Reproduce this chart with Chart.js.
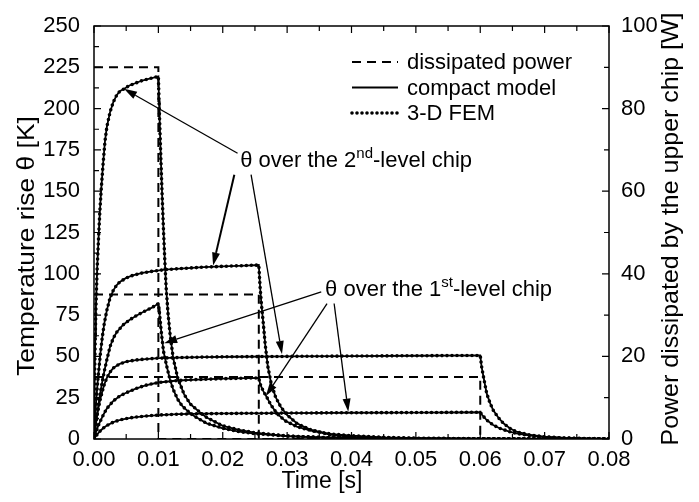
<!DOCTYPE html>
<html>
<head>
  <title>Temperature rise of stacked chips</title>
  <script src="https://cdn.jsdelivr.net/npm/chart.js"></script>
  <style>
    body { margin: 0; background: #fff; }
  </style>
</head>
<body>
  <canvas id="myChart" width="699" height="502"></canvas>
  <script>
    const FONT = '"Liberation Sans", Arial, sans-serif';

    // dissipated power pulses [W] (right axis)
    const p1Time = [0, 0.01, 0.01, 0.08];
    const p1Power = [90, 90, 0, 0];
    const p2Time = [0, 0.0256, 0.0256, 0.08];
    const p2Power = [35, 35, 0, 0];
    const p3Time = [0, 0.06, 0.06, 0.08];
    const p3Power = [15, 15, 0, 0];

    // temperature rise [K], 90 W pulse, 2nd-level chip
    const a2Time = [0, 0.0001, 0.0002, 0.0003, 0.0005, 0.0007, 0.0009, 0.0011, 0.0014, 0.0017, 0.002, 0.0025, 0.003, 0.0035, 0.004, 0.0047, 0.0055, 0.0065, 0.0075, 0.0085, 0.01,
      0.0101, 0.0102, 0.0104, 0.0106, 0.0108, 0.011, 0.0112, 0.0115, 0.0118, 0.0123, 0.013, 0.014, 0.015, 0.0165, 0.0175, 0.02, 0.0225, 0.025, 0.03, 0.035, 0.04, 0.05, 0.06, 0.08];
    const a2Temp = [0, 40, 62, 80, 104, 121, 137, 150, 166, 180, 189, 198, 204, 208, 210.5, 212, 214, 215.5, 217, 218, 219.5,
      205, 192, 168, 146, 126, 108, 92, 76, 64, 49, 37, 27, 21, 16, 13, 8, 5.5, 3.8, 1.8, 1, 0.5, 0.2, 0.05, 0];
    // 90 W pulse, 1st-level chip
    const a1Time = [0, 0.0002, 0.0004, 0.0006, 0.0008, 0.001, 0.0013, 0.0016, 0.002, 0.0025, 0.003, 0.0035, 0.0045, 0.0055, 0.0065, 0.0077, 0.009, 0.01,
      0.0101, 0.0102, 0.0103, 0.0105, 0.0108, 0.0113, 0.0118, 0.0123, 0.013, 0.0137, 0.0144, 0.0155, 0.0175, 0.02, 0.0225, 0.025, 0.03, 0.035, 0.04, 0.05, 0.06, 0.08];
    const a1Temp = [0, 6, 12, 18, 23.5, 28.5, 35, 41, 48, 56, 61, 64.5, 69, 72, 74.5, 77, 79.5, 82,
      79, 75, 71, 63, 53, 44, 36, 30, 24, 20, 17.5, 14, 9.5, 6.5, 4.5, 3.2, 1.8, 1, 0.6, 0.2, 0.05, 0];
    // 35 W pulse, 2nd-level chip
    const b2Time = [0, 0.0002, 0.0004, 0.0006, 0.0008, 0.001, 0.0013, 0.0016, 0.002, 0.0025, 0.003, 0.0035, 0.004, 0.005, 0.006, 0.0075, 0.009, 0.011, 0.014, 0.017, 0.02, 0.0235, 0.0256,
      0.0258, 0.026, 0.0263, 0.0266, 0.027, 0.0275, 0.0282, 0.029, 0.03, 0.0315, 0.0335, 0.0366, 0.04, 0.045, 0.05, 0.06, 0.08];
    const b2Temp = [0, 15, 26, 36, 44, 52, 62, 70, 78, 85.5, 90, 93, 95, 97.5, 99, 100.5, 101.5, 102.5, 103.3, 104, 104.5, 105, 105.3,
      92, 82, 70, 57, 44, 34, 25.5, 19.5, 14.5, 9.5, 5.8, 2.6, 1.3, 0.6, 0.3, 0.1, 0];
    // 35 W pulse, 1st-level chip
    const b1Time = [0, 0.0003, 0.0006, 0.001, 0.0015, 0.002, 0.003, 0.004, 0.005, 0.0065, 0.008, 0.01, 0.013, 0.016, 0.02, 0.0256,
      0.0258, 0.026, 0.0263, 0.0268, 0.0275, 0.0284, 0.0297, 0.0315, 0.034, 0.037, 0.04, 0.045, 0.05, 0.06, 0.08];
    const b1Temp = [0, 4, 7.5, 11, 15, 18.5, 23, 26, 28, 30.5, 32.5, 34.2, 35.4, 36, 36.5, 37,
      33.5, 31.5, 29, 25.6, 20.5, 15.5, 11, 7.5, 4.8, 3, 2, 1, 0.5, 0.15, 0];
    // 15 W pulse, 2nd-level chip
    const c2Time = [0, 0.0002, 0.0004, 0.0006, 0.0008, 0.001, 0.0013, 0.0016, 0.002, 0.0025, 0.003, 0.004, 0.005, 0.0065, 0.008, 0.01, 0.013, 0.017, 0.022, 0.03, 0.04, 0.05, 0.06,
      0.0602, 0.0605, 0.061, 0.0615, 0.062, 0.0628, 0.0636, 0.0646, 0.0656, 0.0675, 0.0698, 0.073, 0.0765, 0.08];
    const c2Temp = [0, 7, 12.5, 17, 21, 24.5, 29, 33, 37, 40.5, 43, 45.5, 46.8, 47.8, 48.4, 48.9, 49.3, 49.6, 49.8, 50, 50.2, 50.4, 50.6,
      44, 37.7, 27.6, 22, 17.5, 13, 9.5, 6.5, 4.4, 2.6, 1.4, 0.6, 0.2, 0.1];
    // 15 W pulse, 1st-level chip
    const c1Time = [0, 0.0003, 0.0006, 0.001, 0.0015, 0.002, 0.003, 0.004, 0.005, 0.0065, 0.008, 0.01, 0.013, 0.017, 0.022, 0.03, 0.04, 0.05, 0.06,
      0.0603, 0.061, 0.062, 0.063, 0.0645, 0.0656, 0.0675, 0.0698, 0.073, 0.0765, 0.08];
    const c1Temp = [0, 1.8, 3.3, 5, 6.8, 8.2, 10.2, 11.5, 12.4, 13.3, 13.9, 14.5, 15, 15.3, 15.5, 15.7, 15.9, 16, 16.2,
      14.5, 11.5, 8.5, 6.5, 4.5, 3.4, 2.2, 1.2, 0.6, 0.3, 0.1];

    // annotation labels and arrows, in data units (time, temperature)
    const noteText = [['\u03b8 over the 2', 'nd', '-level chip'], ['\u03b8 over the 1', 'st', '-level chip']];
    const noteTime = [0.0227, 0.0359];
    const noteTemp = [168.5, 90];
    // [from t, from θ, to t, to θ, line width]
    const arrows = [
      [0.0223, 173, 0.00466, 212, 1.3],
      [0.0218, 160, 0.0185, 105, 2],
      [0.0244, 160, 0.0292, 51.5, 1.3],
      [0.0353, 89, 0.0109, 58, 1.3],
      [0.0362, 82, 0.0267, 26, 1.3],
      [0.0373, 82, 0.0395, 16.5, 1.3]
    ];

    const xy = (ts, vs) => ts.map((t, i) => ({ x: t, y: vs[i] }));
    const base = { showLine: true, pointRadius: 0, borderColor: '#000', fill: false, tension: 0 };
    const power = (ts, vs) => Object.assign({}, base, { data: xy(ts, vs), yAxisID: 'y2', borderWidth: 2, borderDash: [9, 6] });
    const compact = (ts, vs) => Object.assign({}, base, { data: xy(ts, vs), yAxisID: 'y', borderWidth: 1.8 });
    const fem = (ts, vs) => Object.assign({}, base, { data: xy(ts, vs), yAxisID: 'y', borderWidth: 3.6, borderDash: [0, 5], borderCapStyle: 'round' });

    const temps = [[a2Time, a2Temp], [a1Time, a1Temp], [b2Time, b2Temp], [b1Time, b1Temp], [c2Time, c2Temp], [c1Time, c1Temp]];
    const datasets = [power(p1Time, p1Power), power(p2Time, p2Power), power(p3Time, p3Power)]
      .concat(temps.map(d => compact(d[0], d[1])))
      .concat(temps.map(d => fem(d[0], d[1])));

    function arrow(ctx, x0, y0, x1, y1, w) {
      const ang = Math.atan2(y1 - y0, x1 - x0);
      const c = Math.cos(ang), s = Math.sin(ang);
      const hl = 13, hw = 4;
      ctx.lineWidth = w;
      ctx.beginPath();
      ctx.moveTo(x0, y0);
      ctx.lineTo(x1 - hl * c, y1 - hl * s);
      ctx.stroke();
      ctx.beginPath();
      ctx.moveTo(x1, y1);
      ctx.lineTo(x1 - hl * c + hw * s, y1 - hl * s - hw * c);
      ctx.lineTo(x1 - hl * c - hw * s, y1 - hl * s + hw * c);
      ctx.closePath();
      ctx.fill();
    }

    // vertical text reading bottom to top, slightly stretched along its length
    function vText(ctx, text, cx, cy, stretch) {
      ctx.save();
      ctx.translate(cx, cy);
      ctx.rotate(-Math.PI / 2);
      ctx.scale(stretch, 1);
      ctx.fillText(text, 0, 0);
      ctx.restore();
    }

    const decorations = {
      id: 'decorations',
      afterDatasetsDraw(chart) {
        const { ctx, chartArea: a, scales: { x, y, y2 } } = chart;
        ctx.save();
        ctx.strokeStyle = '#000';
        ctx.fillStyle = '#000';
        // frame
        ctx.lineWidth = 1.5;
        ctx.strokeRect(a.left, a.top, a.right - a.left, a.bottom - a.top);
        // inward ticks
        ctx.lineWidth = 1.2;
        ctx.beginPath();
        for (let i = 0; i <= 16; i++) {
          const px = x.getPixelForValue(i * 0.005);
          const len = i % 2 ? 5 : 7;
          ctx.moveTo(px, a.bottom); ctx.lineTo(px, a.bottom - len);
          ctx.moveTo(px, a.top); ctx.lineTo(px, a.top + len);
        }
        for (let i = 0; i <= 20; i++) {
          const py = y.getPixelForValue(i * 12.5);
          const len = i % 2 ? 5 : 7;
          ctx.moveTo(a.left, py); ctx.lineTo(a.left + len, py);
        }
        for (let i = 0; i <= 10; i++) {
          const py = y2.getPixelForValue(i * 10);
          const len = i % 2 ? 5 : 7;
          ctx.moveTo(a.right, py); ctx.lineTo(a.right - len, py);
        }
        ctx.stroke();

        // legend
        ctx.font = '22px ' + FONT;
        ctx.textBaseline = 'middle';
        ctx.textAlign = 'left';
        const lx0 = 352, lx1 = 398, tx = 407;
        const rows = [['dissipated power', [9, 6], 2, 'butt'], ['compact model', [], 1.8, 'butt'], ['3-D FEM', [0, 5], 3.6, 'round']];
        rows.forEach((r, i) => {
          const ly = 62 + i * 25.5;
          ctx.setLineDash(r[1]);
          ctx.lineWidth = r[2];
          ctx.lineCap = r[3];
          ctx.beginPath();
          ctx.moveTo(lx0, ly); ctx.lineTo(lx1, ly);
          ctx.stroke();
          ctx.fillText(r[0], tx, ly + 1);
        });
        ctx.setLineDash([]);
        ctx.lineCap = 'butt';

        // annotations
        noteText.forEach((parts, i) => {
          let px = x.getPixelForValue(noteTime[i]);
          const py = y.getPixelForValue(noteTemp[i]);
          ctx.font = '22px ' + FONT;
          ctx.fillText(parts[0], px, py);
          px += ctx.measureText(parts[0]).width;
          ctx.font = '15px ' + FONT;
          ctx.fillText(parts[1], px, py - 7);
          px += ctx.measureText(parts[1]).width;
          ctx.font = '22px ' + FONT;
          ctx.fillText(parts[2], px, py);
        });
        arrows.forEach(r => {
          arrow(ctx, x.getPixelForValue(r[0]), y.getPixelForValue(r[1]),
            x.getPixelForValue(r[2]), y.getPixelForValue(r[3]), r[4]);
        });

        // axis titles
        ctx.font = '23px ' + FONT;
        ctx.textAlign = 'center';
        ctx.fillText('Time [s]', 322, 482);
        ctx.font = '24px ' + FONT;
        vText(ctx, 'Temperature rise \u03b8 [K]', 27, 246, 1.1);
        vText(ctx, 'Power dissipated by the upper chip [W]', 671, 229, 1.04);
        ctx.restore();
      }
    };

    new Chart(document.getElementById('myChart').getContext('2d'), {
      type: 'scatter',
      data: { datasets: datasets },
      plugins: [decorations],
      options: {
        responsive: false,
        animation: false,
        layout: { padding: { top: 26, left: 0, right: 0, bottom: 0 } },
        plugins: { legend: { display: false }, tooltip: { enabled: false } },
        scales: {
          x: {
            type: 'linear', min: 0, max: 0.08,
            grid: { display: false }, border: { display: false },
            ticks: { stepSize: 0.01, autoSkip: false, maxRotation: 0, padding: 0, color: '#000',
              font: { size: 22, family: FONT }, callback: v => v.toFixed(2) },
            afterFit: s => { s.height = 63; }
          },
          y: {
            position: 'left', min: 0, max: 250,
            grid: { display: false }, border: { display: false },
            ticks: { stepSize: 25, padding: 6, color: '#000', font: { size: 22, family: FONT } },
            afterFit: s => { s.width = 94; }
          },
          y2: {
            position: 'right', min: 0, max: 100,
            grid: { display: false }, border: { display: false },
            ticks: { stepSize: 20, padding: 4, color: '#000', font: { size: 22, family: FONT } },
            afterFit: s => { s.width = 90; }
          }
        }
      }
    });
  </script>
</body>
</html>
